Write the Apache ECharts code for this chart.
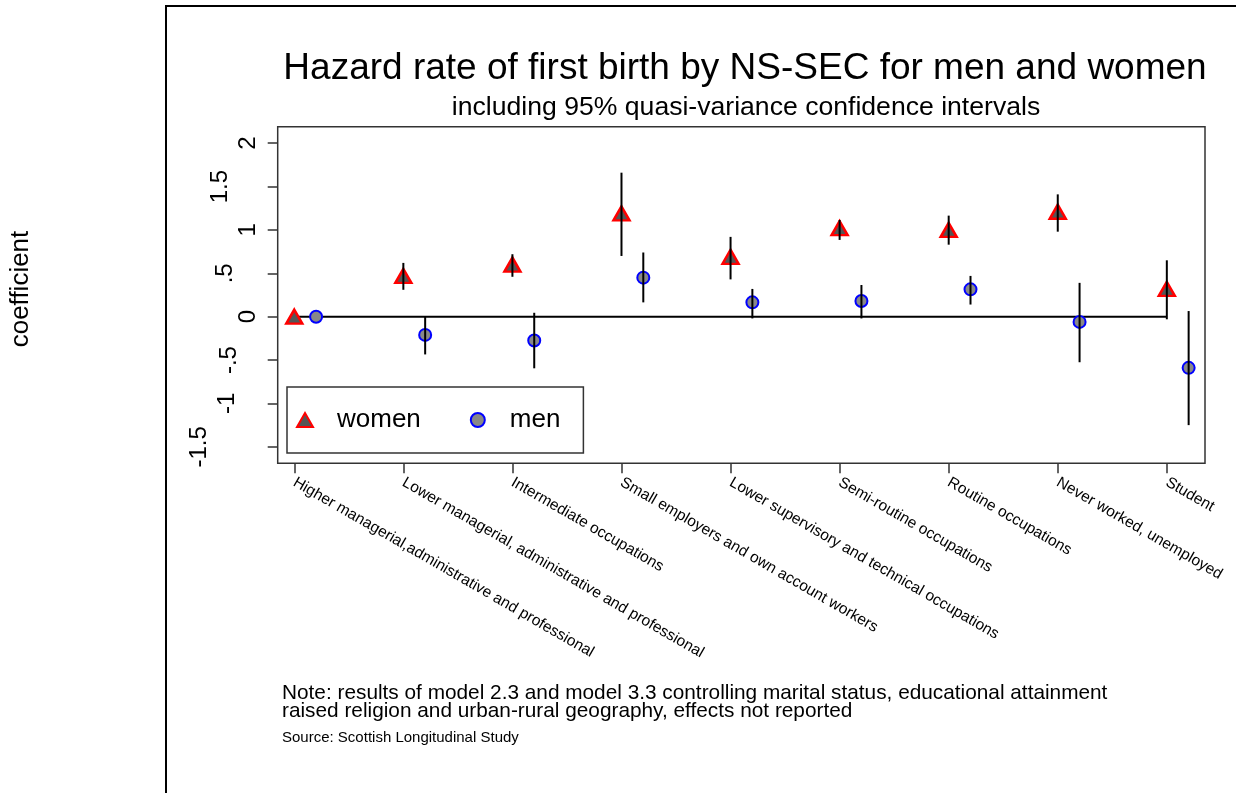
<!DOCTYPE html>
<html><head><meta charset="utf-8">
<script src="https://cdn.jsdelivr.net/npm/echarts@6/dist/echarts.min.js"></script>
<style>html,body{margin:0;padding:0;background:#fff}#c{width:1236px;height:793px}</style>
</head><body><div id="c"></div>
<script>
const categories = [
  'Higher managerial,administrative and professional',
  'Lower managerial, administrative and professional',
  'Intermediate occupations',
  'Small employers and own account workers',
  'Lower supervisory and technical occupations',
  'Semi-routine occupations',
  'Routine occupations',
  'Never worked, unemployed',
  'Student'
];
const women     = [0, 0.47, 0.60, 1.19, 0.69, 1.02, 1.00, 1.21, 0.32];
const womenLow  = [0, 0.31, 0.46, 0.70, 0.43, 0.885, 0.83, 0.98, -0.03];
const womenHigh = [0, 0.62, 0.72, 1.66, 0.92, 1.115, 1.165, 1.41, 0.65];
const men       = [0, -0.21, -0.275, 0.45, 0.165, 0.18, 0.315, -0.06, -0.59];
const menLow    = [0, -0.435, -0.595, 0.165, -0.02, -0.02, 0.14, -0.525, -1.25];
const menHigh   = [0, 0.0, 0.045, 0.74, 0.32, 0.365, 0.47, 0.39, 0.065];
const yTicks = [-1.5, -1, -0.5, 0, 0.5, 1, 1.5, 2];
const xTicks = categories.map((c, i) => i);

const FONT = 'Liberation Sans, Arial, sans-serif';
const MEN_OFFSET = 0.2;
const yShift = {'2':0,'1.5':28,'1':0,'0.5':23,'0':0,'-0.5':19,'-1':21,'-1.5':49};
const yRich = {};
Object.values(yShift).forEach(s => { yRich['s' + s] = {fontSize: 24, color: '#000', fontFamily: FONT, padding: [0, 0, s, 0]}; });
const fmtY = v => { const s = String(v); return s.replace(/^0\./, '.').replace(/^-0\./, '-.'); };

function errBar(name, xs, lo, hi) {
  return {
    type: 'custom', name: name, z: 5, silent: true,
    data: xs.map((x, i) => [x, lo[i], hi[i]]),
    encode: {x: 0, y: [1, 2]},
    renderItem: (params, api) => {
      const x = api.value(0);
      const a = api.coord([x, api.value(1)]);
      const b = api.coord([x, api.value(2)]);
      return {type: 'line', shape: {x1: a[0], y1: a[1], x2: b[0], y2: b[1]}, style: {stroke: '#000', lineWidth: 2}};
    }
  };
}

const chart = echarts.init(document.getElementById('c'), null, {renderer: 'canvas'});
chart.setOption({
  backgroundColor: '#fff',
  animation: false,
  textStyle: {fontFamily: FONT},
  title: [
    {text: 'Hazard rate of first birth by NS-SEC for men and women', left: 745, top: 50, textAlign: 'center', padding: 0,
      textStyle: {fontSize: 37, fontWeight: 'normal', color: '#000', fontFamily: FONT}},
    {text: 'including 95% quasi-variance confidence intervals', left: 746, top: 94, textAlign: 'center', padding: 0,
      textStyle: {fontSize: 26.6, fontWeight: 'normal', color: '#000', fontFamily: FONT}},
    {text: 'Note: results of model 2.3 and model 3.3 controlling marital status, educational attainment\nraised religion and urban-rural geography, effects not reported',
      left: 282, top: 684, padding: 0,
      textStyle: {fontSize: 20.8, lineHeight: 18, fontWeight: 'normal', color: '#000', fontFamily: FONT}},
    {text: 'Source: Scottish Longitudinal Study', left: 282, top: 730, padding: 0,
      textStyle: {fontSize: 15, fontWeight: 'normal', color: '#000', fontFamily: FONT}}
  ],
  graphic: [
    {type: 'rect', silent: true, z: -1, shape: {x: 166, y: 6, width: 1300, height: 1000}, style: {fill: 'none', stroke: '#000', lineWidth: 2}}
  ],
  legend: {
    data: ['women', 'men'], left: 287, top: 387, orient: 'horizontal',
    padding: [20, 23, 20, 9], itemGap: 49, itemWidth: 16, itemHeight: 14,
    borderColor: '#333', borderWidth: 1.5, backgroundColor: '#fff', selectedMode: false,
    formatter: n => '{t|' + n + '}',
    textStyle: {rich: {t: {fontSize: 26, color: '#000', fontFamily: FONT, padding: [0, 0, 0, 19]}}}
  },
  grid: {left: 277.7, top: 126.7, width: 927.3, height: 336.6, show: true, borderColor: '#333', borderWidth: 1.5,
    backgroundColor: 'transparent', containLabel: false, outerBoundsMode: 'none'},
  xAxis: {
    type: 'value', min: -0.152, max: 8.35,
    axisLine: {show: false, onZero: false}, splitLine: {show: false},
    axisTick: {show: true, inside: false, customValues: xTicks, length: 10, lineStyle: {color: '#333', width: 1.5}},
    axisLabel: {customValues: xTicks, rotate: -30, margin: 18, fontSize: 15.5, color: '#000', fontFamily: FONT,
      formatter: v => categories[Math.round(v)]}
  },
  yAxis: {
    type: 'value', min: -1.69, max: 2.19,
    name: 'coefficient', nameLocation: 'middle', nameRotate: 90, nameGap: 244,
    nameTextStyle: {fontSize: 26, color: '#000', fontFamily: FONT, padding: [0, 0, 0, 12]},
    axisLine: {show: false, onZero: false}, splitLine: {show: false},
    axisTick: {show: true, inside: false, customValues: yTicks, length: 10, lineStyle: {color: '#333', width: 1.5}},
    axisLabel: {customValues: yTicks, rotate: 90, margin: 17, color: '#000', fontSize: 24, fontFamily: FONT,
      formatter: v => '{s' + (yShift[String(v)] || 0) + '|' + fmtY(v) + '}', rich: yRich}
  },
  series: [
    {type: 'line', name: 'zero', silent: true, z: 1, symbol: 'none',
      data: [[0, 0], [categories.length - 1, 0]], lineStyle: {color: '#000', width: 2}},
    {type: 'scatter', name: 'women', z: 3, symbol: 'triangle', symbolSize: [16, 14],
      data: women.map((v, i) => [i, v]),
      itemStyle: {color: '#555', borderColor: '#ff0000', borderWidth: 2.5, opacity: 1}},
    {type: 'scatter', name: 'men', z: 3, symbol: 'circle', symbolSize: 12,
      data: men.map((v, i) => [i + MEN_OFFSET, v]),
      itemStyle: {color: '#888', borderColor: '#0000ff', borderWidth: 2, opacity: 1}},
    errBar('ciWomen', women.map((v, i) => i), womenLow, womenHigh),
    errBar('ciMen', men.map((v, i) => i + MEN_OFFSET), menLow, menHigh)
  ]
});
</script>
</body></html>
